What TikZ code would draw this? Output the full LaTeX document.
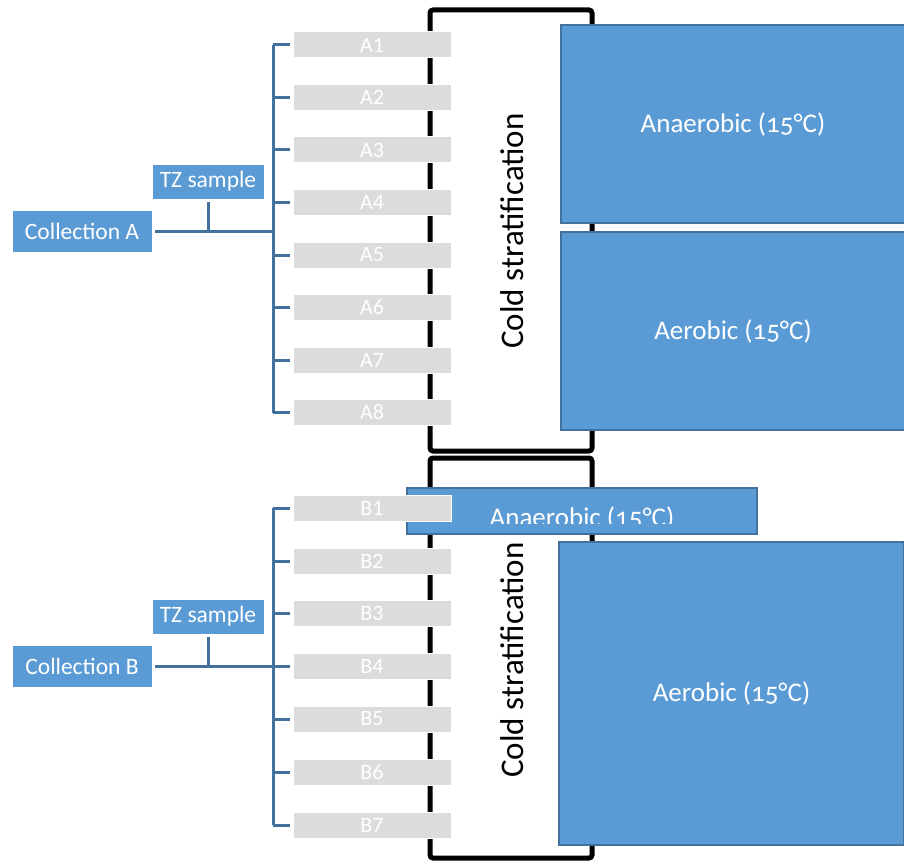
\documentclass[tikz,border=0pt]{standalone}
\usepackage{fontspec}
\setmainfont{Carlito}
\newfontfamily\oldnum[Numbers=OldStyle]{Carlito}
\definecolor{mblue}{HTML}{5B9BD5}
\definecolor{mborder}{HTML}{41719C}
\definecolor{mgray}{HTML}{DCDCDC}
\begin{document}
\begin{tikzpicture}[x=1pt,y=-1pt,
  labelbox/.style={fill=mblue, draw=white, line width=0.8pt, text=white, inner sep=0pt, font=\fontsize{23.5}{27}\selectfont},
  bigbox/.style={fill=mblue, draw=mborder, line width=2pt, text=white, inner sep=0pt, font=\oldnum\fontsize{27}{31}\selectfont},
  graybox/.style={fill=mgray, draw=white, line width=1pt, text=white, inner sep=0pt, minimum width=158pt, minimum height=26pt, font=\fontsize{22}{24}\selectfont},
  coldframe/.style={draw=black, line width=5pt, rounded corners=3pt},
  coldtext/.style={rotate=90, font=\fontsize{33}{38}\selectfont, inner sep=0pt},
  conn/.style={draw=mborder, line width=3pt}
]
\useasboundingbox (0,0) rectangle (904,861);
% cold stratification frames
\draw[coldframe] (430,10) rectangle (592,451);
\draw[coldframe] (430,458) rectangle (592,858);
\node[coldtext] (coldA) at (512,231) {Cold stratification};
\node[coldtext] (coldB) at (512,660) {Cold stratification};
% big boxes
\node[bigbox, minimum width=344pt, minimum height=198pt] (anaA) at (733,124) {Anaerobic (15°C)};
\node[bigbox, minimum width=344pt, minimum height=198pt] (aerA) at (733,331) {Aerobic (15°C)};
\node[bigbox, minimum width=345pt, minimum height=303pt] (aerB) at (731.5,693.5) {Aerobic (15°C)};
\node[bigbox, minimum width=350pt, minimum height=46pt] (anaB) at (582,511) {};
\begin{scope}
  \clip (407,488) rectangle (757,523);
  \node[anchor=base, text=white, inner sep=0pt, font=\oldnum\fontsize{27}{31}\selectfont] (anaBtext) at (582,526) {Anaerobic (15°C)};
\end{scope}
% gray sample boxes
\foreach \i/\y in {1/45,2/97.5,3/150,4/202.5,5/255,6/307.5,7/360,8/412.5}
  \node[graybox] (A\i) at (372,\y) {A\i};
\foreach \i/\y in {1/508,2/561,3/613,4/666,5/719,6/772,7/825}
  \node[graybox] (B\i) at (372,\y) {B\i};
% collection / TZ boxes
\node[labelbox, minimum width=140pt, minimum height=42pt] (collA) at (82,231) {Collection A};
\node[labelbox, minimum width=112pt, minimum height=35pt] (tzA) at (208,181.5) {TZ sample};
\node[labelbox, minimum width=140pt, minimum height=42pt] (collB) at (82,666) {Collection B};
\node[labelbox, minimum width=112pt, minimum height=35pt] (tzB) at (208,616.5) {TZ sample};
% brackets
\coordinate (bx) at (273,0);
\draw[conn] (A1.west -| bx) -- (A8.west -| bx);
\foreach \i in {1,...,8} \draw[conn, shorten >=3pt] (A\i.west -| bx) -- (A\i.west);
\draw[conn, shorten <=3pt] (collA.east) -- (collA.east -| bx);
\draw[conn, shorten <=3pt] (tzA.south) -- (tzA.south |- collA.east);
\draw[conn] (B1.west -| bx) -- (B7.west -| bx);
\foreach \i in {1,...,7} \draw[conn, shorten >=3pt] (B\i.west -| bx) -- (B\i.west);
\draw[conn, shorten <=3pt] (collB.east) -- (collB.east -| bx);
\draw[conn, shorten <=3pt] (tzB.south) -- (tzB.south |- collB.east);
\end{tikzpicture}
\end{document}
